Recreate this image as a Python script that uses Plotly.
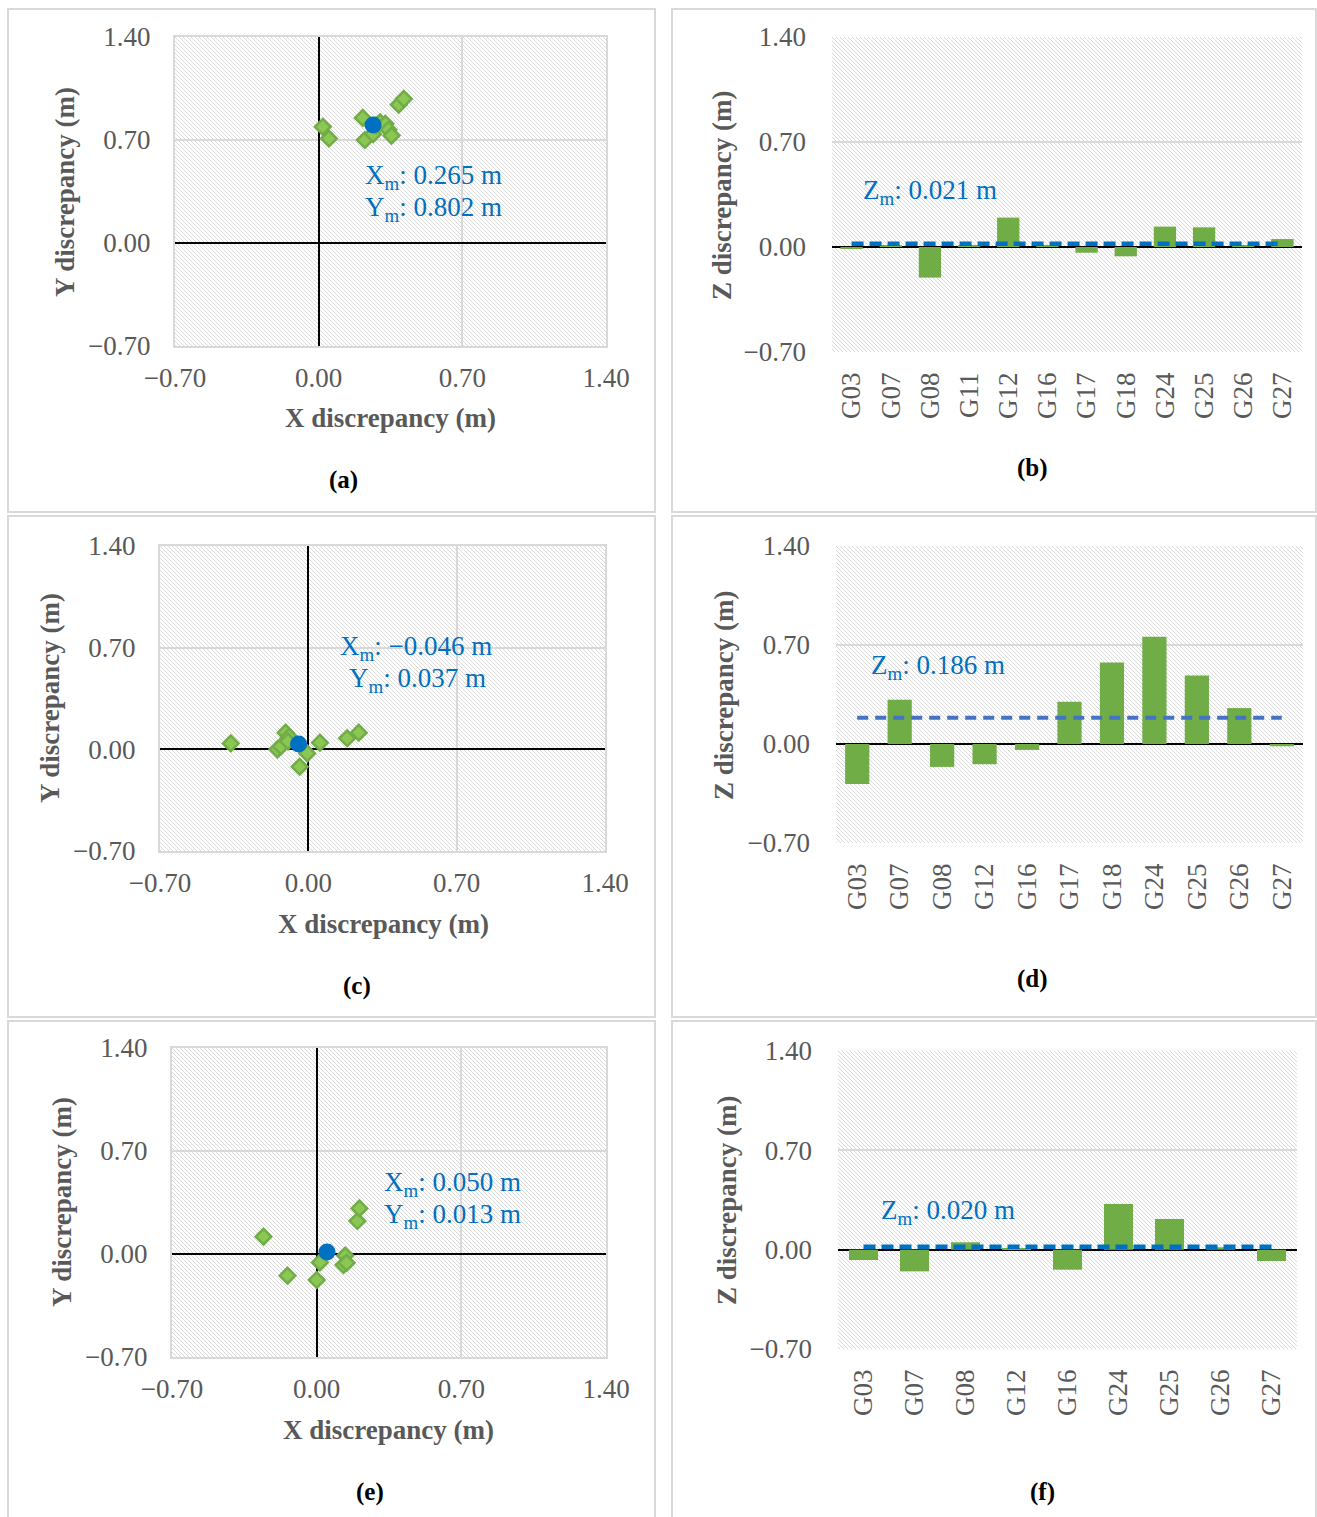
import base64
import plotly.graph_objects as go

W, H = 1317, 1517

# ---------------- data ----------------
# (a) planimetric discrepancies
a_x = [0.02, 0.05, 0.215, 0.225, 0.265, 0.28, 0.30, 0.325, 0.34, 0.355, 0.39, 0.415]
a_y = [0.79, 0.71, 0.85, 0.70, 0.74, 0.80, 0.82, 0.81, 0.77, 0.73, 0.94, 0.98]
a_mean = (0.265, 0.802)

# (c)
c_x = [-0.366, -0.146, -0.107, -0.091, -0.005, -0.041, 0.055, 0.183, 0.238, -0.13, -0.096]
c_y = [0.041, 0.0, 0.115, 0.087, -0.028, -0.12, 0.046, 0.076, 0.115, 0.02, 0.055]
c_mean = (-0.046, 0.037)

# (e)
e_x = [-0.257, -0.141, 0.0, 0.016, 0.138, 0.13, 0.145, 0.197, 0.207]
e_y = [0.118, -0.147, -0.177, -0.057, -0.011, -0.075, -0.06, 0.224, 0.31]
e_mean = (0.050, 0.013)

# (b) vertical discrepancies
b_cats = ["G03", "G07", "G08", "G11", "G12", "G16", "G17", "G18", "G24", "G25", "G26", "G27"]
b_z = [-0.01, 0.01, -0.204, 0.01, 0.196, 0.01, -0.038, -0.062, 0.136, 0.131, 0.012, 0.053]
b_mean = 0.021

# (d)
d_cats = ["G03", "G07", "G08", "G12", "G16", "G17", "G18", "G24", "G25", "G26", "G27"]
d_z = [-0.282, 0.312, -0.162, -0.143, -0.042, 0.298, 0.576, 0.759, 0.484, 0.254, -0.016]
d_mean = 0.186

# (f)
f_cats = ["G03", "G07", "G08", "G12", "G16", "G24", "G25", "G26", "G27"]
f_z = [-0.073, -0.153, 0.052, 0.01, -0.141, 0.322, 0.216, 0.017, -0.08]
f_mean = 0.020

ticks = [-0.70, 0.00, 0.70, 1.40]
tick_text = ["\u22120.70", "0.00", "0.70", "1.40"]

# ---------------- styling ----------------
FONT = "Times New Roman, Liberation Serif, serif"
GRAY = "#595959"
GRID = "#d9d9d9"
GREEN = "#70AD47"
GREEN_FILL = "#8CC653"
BLUE = "#0070C0"
BLUE2 = "#4472C4"
TS = 27


def px2x(px):
    return px / W


def px2y(py):
    return 1 - py / H


# plot-area pixel boxes: (left, right, top, bottom)
boxes = {
    "a": (175, 606, 37, 346),
    "b": (832, 1302, 37, 352),
    "c": (160, 605, 546, 851),
    "d": (836, 1303, 546, 843),
    "e": (172, 606, 1048, 1357),
    "f": (838, 1297, 1051, 1349),
}
order = ["a", "b", "c", "d", "e", "f"]

fig = go.Figure()


def hatch_uri(w, h):
    svg = (
        f"<svg xmlns='http://www.w3.org/2000/svg' width='{w}' height='{h}' viewBox='0 0 {w} {h}'>"
        "<defs><pattern id='p' width='4' height='4' patternUnits='userSpaceOnUse'>"
        "<path d='M-1,-1 L5,5 M-1,3 L1,5 M3,-1 L5,1' stroke='#d2d2d2' stroke-width='0.85'/>"
        "</pattern></defs>"
        f"<rect width='{w}' height='{h}' fill='white'/>"
        f"<rect width='{w}' height='{h}' fill='url(#p)'/></svg>"
    )
    return "data:image/svg+xml;base64," + base64.b64encode(svg.encode()).decode()


images = []
layout_axes = {}
for i, k in enumerate(order):
    l, r, t, b = boxes[k]
    n = "" if i == 0 else str(i + 1)
    scatter_panel = k in ("a", "c", "e")
    xa = dict(
        domain=[px2x(l), px2x(r)],
        anchor="y" + n,
        tickfont=dict(family=FONT, size=TS, color=GRAY),
        ticks="",
        automargin=False,
    )
    ya = dict(
        domain=[px2y(b), px2y(t)],
        anchor="x" + n,
        range=[-0.7, 1.4],
        tickvals=ticks,
        ticktext=tick_text,
        tickfont=dict(family=FONT, size=TS, color=GRAY),
        ticks="",
        showgrid=True,
        gridcolor=GRID,
        gridwidth=2,
        zeroline=True,
        zerolinecolor="black",
        zerolinewidth=2,
        ticklabelstandoff=17,
        automargin=False,
    )
    if scatter_panel:
        xa.update(
            range=[-0.7, 1.4],
            tickvals=ticks,
            ticktext=tick_text,
            showgrid=True,
            gridcolor=GRID,
            gridwidth=2,
            zeroline=True,
            zerolinecolor="black",
            zerolinewidth=2,
            showline=True,
            mirror=True,
            linecolor=GRID,
            linewidth=2,
            ticklabelstandoff=7,
        )
        ya.update(showline=True, mirror=True, linecolor=GRID, linewidth=2)
    else:
        xa.update(
            type="category",
            showgrid=False,
            zeroline=False,
            showline=False,
            tickangle=-90,
            ticklabelstandoff=14,
        )
        ya.update(ticklabelstandoff=25)
    layout_axes["xaxis" + n] = xa
    layout_axes["yaxis" + n] = ya
    images.append(
        dict(
            source=hatch_uri(r - l, b - t),
            xref="paper",
            yref="paper",
            x=px2x(l),
            y=px2y(t),
            sizex=(r - l) / W,
            sizey=(b - t) / H,
            xanchor="left",
            yanchor="top",
            sizing="stretch",
            layer="below",
        )
    )

# scatter panels
for (xs, ys, mean, n) in [(a_x, a_y, a_mean, ""), (c_x, c_y, c_mean, "3"), (e_x, e_y, e_mean, "5")]:
    fig.add_trace(go.Scatter(
        x=xs, y=ys, mode="markers", xaxis="x" + n, yaxis="y" + n,
        marker=dict(symbol="diamond", size=12, color=GREEN_FILL, line=dict(color=GREEN, width=2.5)),
        showlegend=False, hoverinfo="x+y",
    ))
    fig.add_trace(go.Scatter(
        x=[mean[0]], y=[mean[1]], mode="markers", xaxis="x" + n, yaxis="y" + n,
        marker=dict(symbol="circle", size=17, color=BLUE),
        showlegend=False, hoverinfo="x+y",
    ))

# bar panels
for (cats, zs, zm, n, lc, dash, lw) in [
    (b_cats, b_z, b_mean, "2", BLUE, "12px,6px", 4.5),
    (d_cats, d_z, d_mean, "4", BLUE2, "11px,7px", 4),
    (f_cats, f_z, f_mean, "6", BLUE, "12px,6px", 4.5),
]:
    fig.add_trace(go.Bar(
        x=cats, y=zs, xaxis="x" + n, yaxis="y" + n,
        marker=dict(color=GREEN, line=dict(width=0)),
        showlegend=False,
    ))
    fig.add_trace(go.Scatter(
        x=cats, y=[zm] * len(cats), mode="lines", xaxis="x" + n, yaxis="y" + n,
        line=dict(color=lc, width=lw, dash=dash),
        showlegend=False,
    ))

annotations = []


def ann(text, px, py, size=TS, color=GRAY, bold=False, angle=0):
    if bold:
        text = f"<b>{text}</b>"
    annotations.append(dict(
        text=text, x=px2x(px), y=px2y(py), xref="paper", yref="paper",
        xanchor="center", yanchor="middle", showarrow=False, textangle=angle,
        font=dict(family=FONT, size=size, color=color),
    ))


# axis titles
ann("Y discrepancy (m)", 65, 192, bold=True, angle=-90)
ann("X discrepancy (m)", 390, 418, bold=True)
ann("Z discrepancy (m)", 722, 195, bold=True, angle=-90)
ann("Y discrepancy (m)", 50, 698, bold=True, angle=-90)
ann("X discrepancy (m)", 383, 924, bold=True)
ann("Z discrepancy (m)", 724, 695, bold=True, angle=-90)
ann("Y discrepancy (m)", 62, 1202, bold=True, angle=-90)
ann("X discrepancy (m)", 388, 1430, bold=True)
ann("Z discrepancy (m)", 727, 1200, bold=True, angle=-90)

# panel labels
for lab, px, py in [("(a)", 343, 480), ("(b)", 1032, 468), ("(c)", 357, 986),
                    ("(d)", 1032, 979), ("(e)", 370, 1492), ("(f)", 1042, 1492)]:
    ann(lab, px, py, size=25, color="black", bold=True)


def fmt(v):
    s = f"{v:.3f}"
    return s.replace("-", "\u2212")


# mean annotations
ann(f"X<sub>m</sub>: {fmt(a_mean[0])} m", 433, 177, color=BLUE)
ann(f"Y<sub>m</sub>: {fmt(a_mean[1])} m", 433, 209, color=BLUE)
ann(f"X<sub>m</sub>: {fmt(c_mean[0])} m", 416, 648, color=BLUE)
ann(f"Y<sub>m</sub>: {fmt(c_mean[1])} m", 417, 680, color=BLUE)
ann(f"X<sub>m</sub>: {fmt(e_mean[0])} m", 452, 1184, color=BLUE)
ann(f"Y<sub>m</sub>: {fmt(e_mean[1])} m", 452, 1216, color=BLUE)
ann(f"Z<sub>m</sub>: {fmt(b_mean)} m", 930, 192, color=BLUE)
ann(f"Z<sub>m</sub>: {fmt(d_mean)} m", 938, 667, color=BLUE)
ann(f"Z<sub>m</sub>: {fmt(f_mean)} m", 948, 1212, color=BLUE)

# panel frames
shapes = []
for (x0, x1, y0, y1) in [(8, 655, 9, 512), (672, 1316, 9, 512),
                         (8, 655, 516, 1017), (672, 1316, 516, 1017),
                         (8, 655, 1021, 1530), (672, 1316, 1021, 1530)]:
    shapes.append(dict(type="rect", xref="paper", yref="paper",
                       x0=px2x(x0), x1=px2x(x1), y0=px2y(y1), y1=px2y(y0),
                       line=dict(color=GRID, width=2), layer="below"))

fig.update_layout(
    width=W, height=H,
    margin=dict(l=0, r=0, t=0, b=0, pad=0, autoexpand=False),
    paper_bgcolor="white",
    plot_bgcolor="rgba(0,0,0,0)",
    bargap=0.43,
    font=dict(family=FONT, color=GRAY),
    images=images,
    annotations=annotations,
    shapes=shapes,
    showlegend=False,
    **layout_axes,
)

fig.write_html(
    "out.html",
    config={"responsive": False, "displayModeBar": False},
    post_script="document.body.style.margin='0';document.body.style.overflow='hidden';",
)
